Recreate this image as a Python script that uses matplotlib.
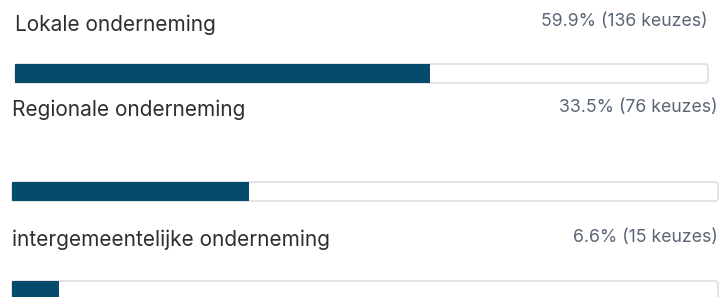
import matplotlib.pyplot as plt
from matplotlib.patches import FancyBboxPatch

labels = ['Lokale onderneming', 'Regionale onderneming', 'intergemeentelijke onderneming']
percents = [59.9, 33.5, 6.6]
counts = [136, 76, 15]

# layout in pixels (screenshot is slightly uneven between rows)
track_left = [15, 12, 12]
track_right = [708, 718, 718]
track_top = [64, 182, 281]
track_h = 19
label_y = [25, 110, 240]
value_y = [21, 107, 237]

plt.rcParams['font.family'] = ['Inter', 'DejaVu Sans']
fig = plt.figure(figsize=(7.22, 2.97), dpi=100)
ax = fig.add_axes([0, 0, 1, 1])
ax.set_xlim(0, 722)
ax.set_ylim(297, 0)
ax.axis('off')

fill_color = '#054b6c'
for i in range(len(labels)):
    w = track_right[i] - track_left[i]
    track = FancyBboxPatch((track_left[i], track_top[i]), w, track_h,
                           boxstyle='round,pad=0,rounding_size=3',
                           facecolor='white', edgecolor='#dedede', linewidth=1.2)
    ax.add_patch(track)
    ax.barh(track_top[i] + track_h / 2, percents[i] / 100 * w, left=track_left[i],
            height=track_h, color=fill_color, edgecolor='none')
    ax.text(track_left[i], label_y[i], labels[i], fontsize=15, color='#2e2e2e',
            va='center', ha='left')
    ax.text(track_right[i], value_y[i], f'{percents[i]}% ({counts[i]} keuzes)',
            fontsize=12.7, color='#5b6675', va='center', ha='right')

fig.savefig('out.png', dpi=100)
